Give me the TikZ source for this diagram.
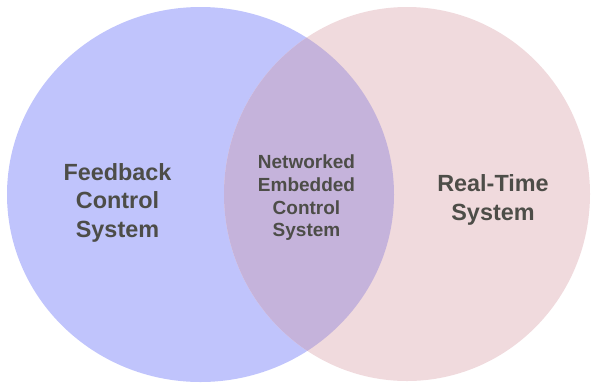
\documentclass[tikz,border=0pt]{standalone}
\usepackage{fontspec}
\setmainfont{Liberation Sans}
\definecolor{fcsblue}{RGB}{192,196,252}
\definecolor{rtspink}{RGB}{240,218,221}
\definecolor{necmix}{RGB}{197,179,219}
\definecolor{txtgray}{RGB}{77,77,72}

\begin{document}
\begin{tikzpicture}[x=1pt,y=-1pt,
    settext/.style={align=center,text=txtgray,font=\bfseries\fontsize{23.4}{28.8}\selectfont},
    smalltext/.style={settext,font=\bfseries\fontsize{19}{22.7}\selectfont}]
  \useasboundingbox (0,0) rectangle (591,384);

  \fill[fcsblue] (200.5,194.5) ellipse [x radius=193.5, y radius=187.5];
  \fill[rtspink] (407,194) ellipse [x radius=183, y radius=187];
  \begin{scope}
    \clip (200.5,194.5) ellipse [x radius=193.5, y radius=187.5];
    \fill[necmix] (407,194) ellipse [x radius=183, y radius=187];
  \end{scope}

  \node[settext] (fcs) at (117.5,202.8) {Feedback\\Control\\System};
  \node[smalltext] (nec) at (306.5,197.9) {Networked\\Embedded\\Control\\System};
  \node[settext] (rts) at (493,200) {Real-Time\\System};
\end{tikzpicture}
\end{document}
